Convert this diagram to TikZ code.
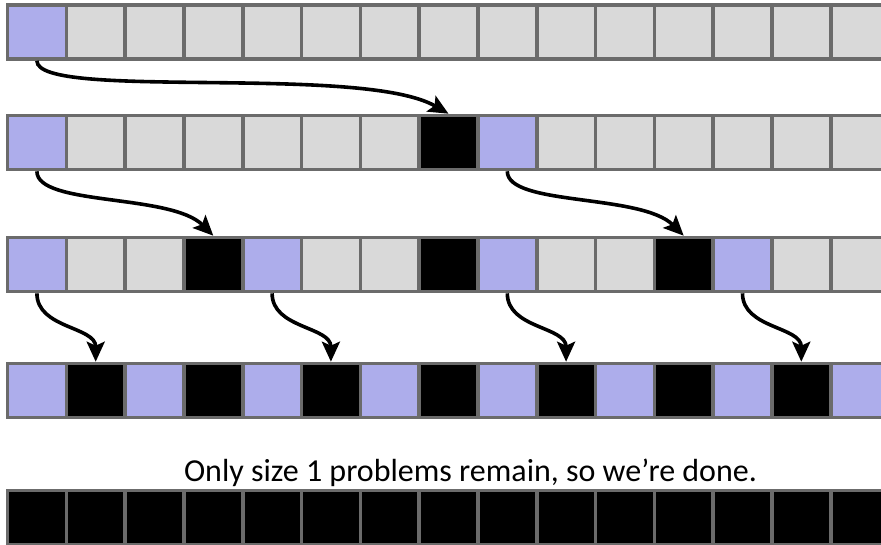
\documentclass[tikz,border=0pt]{standalone}
\usepackage{fontspec}
\setmainfont{Carlito}
\usetikzlibrary{positioning, arrows.meta}
\definecolor{pu}{HTML}{ADADEB}
\definecolor{gr}{HTML}{D9D9D9}
\definecolor{bk}{HTML}{000000}
\definecolor{edge}{HTML}{6B6B6B}

\begin{document}
\begin{tikzpicture}[x=1pt, y=1pt,
    cell/.style={rectangle, draw=edge, line width=3.6pt, minimum width=58.8pt, minimum height=54pt, inner sep=0pt},
    arr/.style={-{Stealth[length=20pt, width=18pt, inset=4pt]}, line width=3.6pt},
    lbl/.style={font=\fontsize{32}{38}\selectfont, anchor=base},
  ]
    \useasboundingbox (0,0) rectangle (881,-544);
    \clip (0,0) rectangle (881,-544);

    % rows of cells
    \foreach \c [count=\i from 0] in {pu,gr,gr,gr,gr,gr,gr,gr,gr,gr,gr,gr,gr,gr,gr}
      \node[cell, fill=\c] (a\i) at ({7.5+(\i+0.5)*58.8}, -32) {};
    \foreach \c [count=\i from 0] in {pu,gr,gr,gr,gr,gr,gr,bk,pu,gr,gr,gr,gr,gr,gr}
      \node[cell, fill=\c] (b\i) at ({7.5+(\i+0.5)*58.8}, -142.5) {};
    \foreach \c [count=\i from 0] in {pu,gr,gr,bk,pu,gr,gr,bk,pu,gr,gr,bk,pu,gr,gr}
      \node[cell, fill=\c] (c\i) at ({7.5+(\i+0.5)*58.8}, -264.5) {};
    \foreach \c [count=\i from 0] in {pu,bk,pu,bk,pu,bk,pu,bk,pu,bk,pu,bk,pu,bk,pu}
      \node[cell, fill=\c] (d\i) at ({7.5+(\i+0.5)*58.8}, -390.5) {};
    \foreach \i in {0,...,14}
      \node[cell, fill=bk] (e\i) at ({7.5+(\i+0.5)*58.8}, -517.5) {};

    \node[lbl] (msg) at (470.5,-481) {Only size 1 problems remain, so we’re done.};

    % splits
    \draw[arr] (a0.south) to[out=-90, in=150, out distance=40pt, in distance=100pt] (b7.north);
    \draw[arr] (b0.south) to[out=-90, in=135, out distance=35pt, in distance=60pt] (c3.north);
    \draw[arr] (b8.south) to[out=-90, in=135, out distance=35pt, in distance=60pt] (c11.north);
    \foreach \s/\t in {0/1, 4/5, 8/9, 12/13}
      \draw[arr] (c\s.south) to[out=-90, in=90] (d\t.north);
\end{tikzpicture}
\end{document}
